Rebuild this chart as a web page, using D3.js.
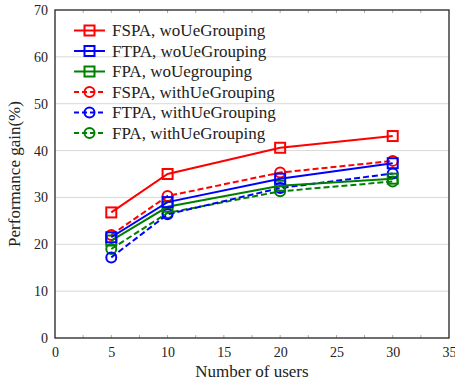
<!DOCTYPE html>
<html>
<head>
<meta charset="utf-8">
<script src="https://cdn.jsdelivr.net/npm/d3@7"></script>
<style>
  body { margin: 0; background: #fff; }
  text { font-family: "Liberation Serif", "Times New Roman", serif; }
</style>
</head>
<body>
<div id="chart"></div>
<script>
const users = [5, 10, 20, 30];
const fspaWo = [26.8, 35, 40.6, 43.1];
const ftpaWo = [21.5, 29, 34, 37.3];
const fpaWo = [20.8, 28, 32.5, 34];
const fspaWith = [22, 30.3, 35.3, 37.8];
const ftpaWith = [17.2, 26.4, 32, 35.1];
const fpaWith = [19, 26.7, 31.3, 33.4];

const seriesNames = [
  "FSPA, woUeGrouping",
  "FTPA, woUeGrouping",
  "FPA, woUegrouping",
  "FSPA, withUeGrouping",
  "FTPA, withUeGrouping",
  "FPA, withUeGrouping"
];
const xTicks = [0, 5, 10, 15, 20, 25, 30, 35];
const yTicks = [0, 10, 20, 30, 40, 50, 60, 70];

const width = 455, height = 381;
const margin = { top: 10, right: 6, bottom: 43, left: 55 };

const series = [
  { name: seriesNames[0], values: fspaWo, color: "#ff0000", marker: "square", dashed: false },
  { name: seriesNames[1], values: ftpaWo, color: "#0000ff", marker: "square", dashed: false },
  { name: seriesNames[2], values: fpaWo, color: "#008000", marker: "square", dashed: false },
  { name: seriesNames[3], values: fspaWith, color: "#ff0000", marker: "circle", dashed: true },
  { name: seriesNames[4], values: ftpaWith, color: "#0000ff", marker: "circle", dashed: true },
  { name: seriesNames[5], values: fpaWith, color: "#008000", marker: "circle", dashed: true }
];

const svg = d3.select("#chart").append("svg")
  .attr("width", width)
  .attr("height", height);

const x = d3.scaleLinear().domain([0, 35]).range([margin.left, width - margin.right]);
const y = d3.scaleLinear().domain([0, 70]).range([height - margin.bottom, margin.top]);

// gridlines
svg.append("g")
  .selectAll("line")
  .data(yTicks.slice(1, -1))
  .join("line")
  .attr("x1", x(0)).attr("x2", x(35))
  .attr("y1", d => y(d)).attr("y2", d => y(d))
  .attr("stroke", "#d9d9d9").attr("stroke-width", 1);

// minor ticks top and bottom
const minor = d3.range(2.5, 35, 2.5);
svg.append("g").selectAll("line").data(minor).join("line")
  .attr("x1", d => x(d)).attr("x2", d => x(d))
  .attr("y1", y(0)).attr("y2", y(0) - 3)
  .attr("stroke", "#aaa");
svg.append("g").selectAll("line").data(minor).join("line")
  .attr("x1", d => x(d)).attr("x2", d => x(d))
  .attr("y1", y(70)).attr("y2", y(70) + 3)
  .attr("stroke", "#aaa");

// frame
svg.append("rect")
  .attr("x", x(0)).attr("y", y(70))
  .attr("width", x(35) - x(0)).attr("height", y(0) - y(70))
  .attr("fill", "none").attr("stroke", "#222").attr("stroke-width", 1.3);

// axes
const xAxis = d3.axisBottom(x).tickValues(xTicks).tickSize(0).tickPadding(9);
const yAxis = d3.axisLeft(y).tickValues(yTicks).tickSize(0).tickPadding(7);

svg.append("g").attr("transform", `translate(0,${y(0)})`).call(xAxis)
  .call(g => g.select(".domain").remove())
  .selectAll("text").attr("font-size", 14).attr("fill", "#222")
  .style("font-family", "'Liberation Serif', serif");
svg.append("g").attr("transform", `translate(${x(0)},0)`).call(yAxis)
  .call(g => g.select(".domain").remove())
  .selectAll("text").attr("font-size", 14).attr("fill", "#222")
  .style("font-family", "'Liberation Serif', serif");

svg.append("text")
  .attr("x", (x(0) + x(35)) / 2).attr("y", height - 4)
  .attr("text-anchor", "middle").attr("font-size", 17).attr("fill", "#222")
  .text("Number of users");
svg.append("text")
  .attr("transform", `translate(20,${(y(0) + y(70)) / 2}) rotate(-90)`)
  .attr("text-anchor", "middle").attr("font-size", 17).attr("fill", "#222")
  .text("Performance gain(%)");

function drawMarker(g, s, cx, cy) {
  if (s.marker === "square") {
    g.append("rect")
      .attr("x", cx - 5).attr("y", cy - 5).attr("width", 10).attr("height", 10)
      .attr("fill", "none").attr("stroke", s.color).attr("stroke-width", 2);
  } else {
    g.append("circle")
      .attr("cx", cx).attr("cy", cy).attr("r", 5)
      .attr("fill", "none").attr("stroke", s.color).attr("stroke-width", 2);
  }
}

const line = d3.line().x((d, i) => x(users[i])).y(d => y(d));

// draw in reverse so the first series sits on top
series.slice().reverse().forEach(s => {
  const g = svg.append("g");
  g.append("path")
    .attr("d", line(s.values))
    .attr("fill", "none").attr("stroke", s.color).attr("stroke-width", 2)
    .attr("stroke-dasharray", s.dashed ? "6,3" : null);
  s.values.forEach((v, i) => drawMarker(g, s, x(users[i]), y(v)));
});

// legend
const legend = svg.append("g");
series.forEach((s, i) => {
  const ly = 30.5 + i * 20.5;
  const g = legend.append("g");
  g.append("line")
    .attr("x1", 74).attr("x2", 105).attr("y1", ly).attr("y2", ly)
    .attr("stroke", s.color).attr("stroke-width", 2)
    .attr("stroke-dasharray", s.dashed ? "5,3" : null);
  drawMarker(g, s, 89.5, ly);
  g.append("text")
    .attr("x", 112).attr("y", ly + 5.5)
    .attr("font-size", 17).attr("fill", "#222")
    .text(s.name);
});
</script>
</body>
</html>
